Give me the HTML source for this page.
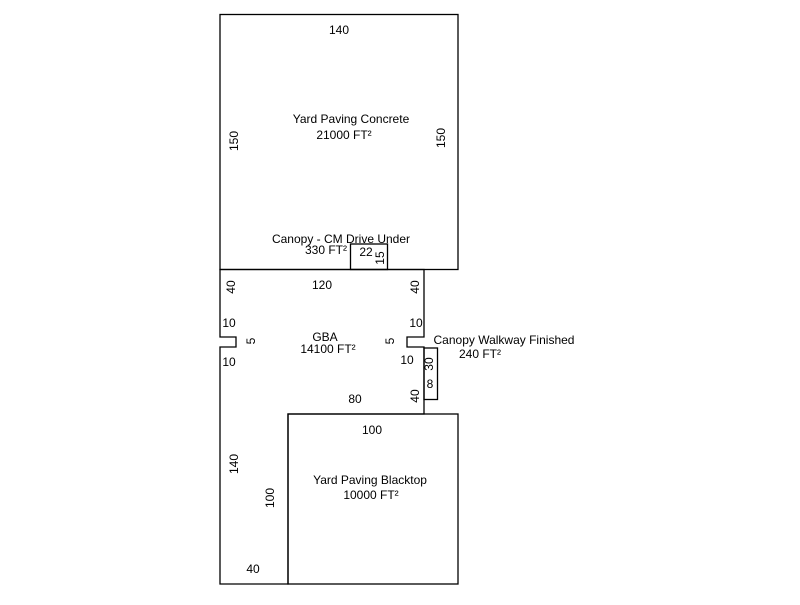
<!DOCTYPE html>
<html><head><style>
body{margin:0;background:#fff;width:800px;height:600px;overflow:hidden}
svg text{font-family:"Liberation Sans",Arial,sans-serif;font-size:12px;fill:#000}
</style></head><body>
<svg width="800" height="600" xmlns="http://www.w3.org/2000/svg">
<g fill="none" stroke="#000" stroke-width="1.3">
<rect x="220" y="14.5" width="238" height="255"/>
<rect x="350.5" y="244" width="37" height="25.5"/>
<polygon points="220,269.5 424,269.5 424,337 407,337 407,347 424,347 424,414 288,414 288,584 220,584 220,347 236,347 236,337 220,337"/>
<rect x="424" y="348" width="13.5" height="51.5"/>
<rect x="288" y="414" width="170" height="170"/>
</g>
<g text-anchor="middle">
<text x="339" y="34">140</text>
<text x="351" y="123">Yard Paving Concrete</text>
<text x="344" y="139">21000 FT²</text>
<text x="238" y="141" transform="rotate(-90 238 141)">150</text>
<text x="445" y="138" transform="rotate(-90 445 138)">150</text>
<text x="341" y="243">Canopy - CM Drive Under</text>
<text x="326" y="254">330 FT²</text>
<text x="366" y="256">22</text>
<text x="384" y="258" transform="rotate(-90 384 258)">15</text>
<text x="322" y="289">120</text>
<text x="235" y="287" transform="rotate(-90 235 287)">40</text>
<text x="419" y="287" transform="rotate(-90 419 287)">40</text>
<text x="229" y="327">10</text>
<text x="416" y="327">10</text>
<text x="255" y="341" transform="rotate(-90 255 341)">5</text>
<text x="394" y="341" transform="rotate(-90 394 341)">5</text>
<text x="325" y="341">GBA</text>
<text x="328" y="353">14100 FT²</text>
<text x="229" y="366">10</text>
<text x="407" y="364">10</text>
<text x="504" y="344">Canopy Walkway Finished</text>
<text x="480" y="358">240 FT²</text>
<text x="433" y="364" transform="rotate(-90 433 364)">30</text>
<text x="430" y="388">8</text>
<text x="419" y="396" transform="rotate(-90 419 396)">40</text>
<text x="355" y="403">80</text>
<text x="372" y="434">100</text>
<text x="370" y="484">Yard Paving Blacktop</text>
<text x="371" y="499">10000 FT²</text>
<text x="238" y="464" transform="rotate(-90 238 464)">140</text>
<text x="274" y="498" transform="rotate(-90 274 498)">100</text>
<text x="253" y="573">40</text>
</g>
</svg>
</body></html>
